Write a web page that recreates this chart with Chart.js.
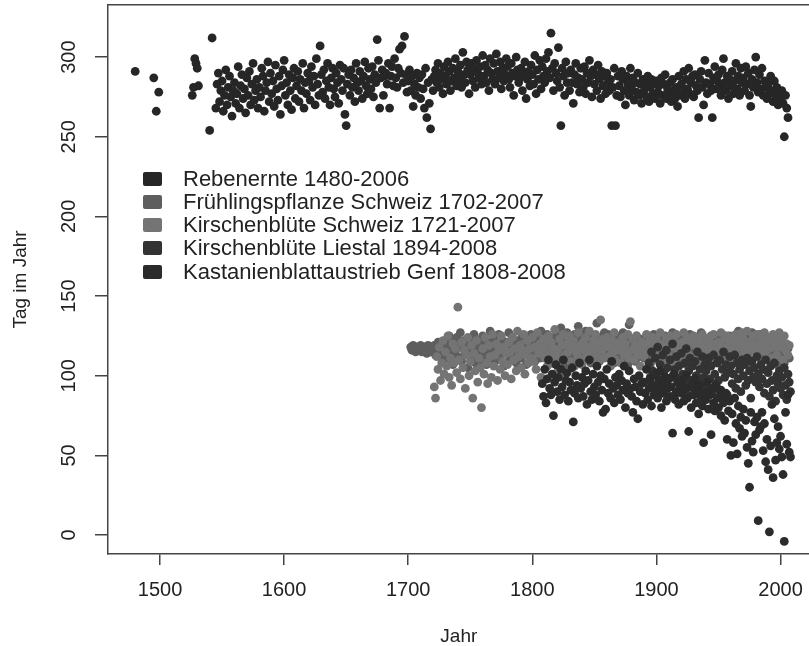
<!DOCTYPE html>
<html>
<head>
<meta charset="UTF-8">
<title>Phänologie Schweiz</title>
<script src="https://cdn.jsdelivr.net/npm/chart.js"></script>
<style>
  body { margin: 0; background: #fff; }
  /* the plot box runs off the right edge like in the original, so the canvas is a bit wider than the window */
  #wrap { position: relative; width: 809px; height: 646px; overflow: hidden; }
  #legend { position: absolute; left: 143px; top: 167px; font-family: "Liberation Sans", Arial, sans-serif; font-size: 22px; color: #222; }
  #legend .row { display: flex; align-items: center; height: 23.25px; white-space: nowrap; }
  #legend .box { width: 19px; height: 14px; border-radius: 2px; margin-right: 21px; }
</style>
</head>
<body>
<div id="wrap">
  <canvas id="myChart" width="814" height="646"></canvas>
  <div id="legend"></div>
</div>
<script>
const seriesNames = [
  'Rebenernte 1480-2006',
  'Frühlingspflanze Schweiz 1702-2007',
  'Kirschenblüte Schweiz 1721-2007',
  'Kirschenblüte Liestal 1894-2008',
  'Kastanienblattaustrieb Genf 1808-2008'
];
const seriesColors = ['#262626', '#5e5e5e', '#747474', '#333333', '#2b2b2b'];

const xTicks = [1500, 1600, 1700, 1800, 1900, 2000];
const yTicks = [0, 50, 100, 150, 200, 250, 300];

// Rebenernte: a few scattered early years, then one value per year from 1545
const rebenEarlyYears = [1480, 1495, 1497, 1499, 1526, 1527, 1528, 1529, 1530, 1531, 1540, 1542];
const rebenEarlyValues = [291, 287, 266, 278, 276, 281, 299, 296, 293, 282, 254, 312];
const rebenStart = 1545;
const rebenValues = [
  268, 283, 290, 272, 279,
  285, 266, 276, 292, 270, 281, 288, 275, 263, 279,
  284, 271, 277, 294, 268, 282, 289, 274, 280, 265,
  287, 276, 291, 270, 283, 296, 273, 279, 286, 268,
  281, 275, 293, 288, 266, 279, 284, 297, 272, 290,
  277, 285, 269, 295, 280, 273, 288, 264, 282, 292,
  298, 276, 284, 270, 289, 279, 267, 287, 293, 274,
  282, 291, 272, 286, 279, 296, 268, 284, 277, 290,
  285, 273, 294, 281, 288, 270, 299, 283, 276, 307,
  289, 278, 292, 274, 285, 296, 281, 270, 287, 293,
  280, 275, 290, 284, 271, 295, 286, 279, 293, 264,
  257, 283, 289, 276, 292, 281, 287, 272, 296, 284,
  279, 291, 285, 274, 288, 297, 282, 277, 293, 286,
  280, 294, 275, 289, 284, 311, 298, 268, 287, 292,
  276, 288, 290, 283, 296, 268, 288, 294, 282, 299,
  287, 281, 293, 305, 290, 307, 284, 313, 289, 278,
  285, 292, 279, 288, 269, 283, 276, 290, 281, 287,
  274, 289, 280, 268, 293, 262, 284, 271, 255, 286,
  279, 288, 292, 284, 296, 281, 290, 286, 277, 294,
  288, 283, 297, 291, 279, 285, 293, 287, 299, 282,
  291, 286, 295, 281, 303, 289, 284, 297, 292, 277,
  289, 296, 285, 293, 281, 298, 290, 287, 294, 283,
  301, 288, 295, 284, 292, 279, 299, 290, 286, 296,
  283, 302, 291, 287, 297, 280, 293, 285, 289, 299,
  294, 286, 281, 296, 290, 276, 288, 300, 292, 284,
  287, 293, 279, 290, 297, 274, 286, 291, 282, 295,
  289, 283, 301, 277, 292, 286, 298, 280, 294, 288,
  284, 299, 291, 303, 287, 315, 293, 279, 296, 290,
  285, 306, 281, 257, 293, 288, 276, 297, 284, 290,
  279, 292, 284, 271, 289, 296, 283, 287, 278, 293,
  286, 281, 294, 277, 290, 284, 298, 288, 275, 292,
  283, 289, 279, 295, 286, 274, 291, 282, 288, 277,
  290, 284, 279, 286, 257, 281, 293, 257, 276, 288,
  282, 275, 291, 286, 279, 270, 288, 283, 276, 293,
  280, 287, 273, 284, 278, 290, 276, 283, 271, 286,
  279, 284, 275, 288, 272, 281, 286, 277, 283, 274,
  285, 278, 282, 271, 287, 276, 283, 289, 274, 280,
  277, 284, 272, 286, 279, 274, 281, 269, 288, 276,
  283, 278, 291, 274, 286, 280, 293, 277, 284, 288,
  275, 289, 282, 279, 262, 286, 291, 281, 270, 298,
  284, 277, 290, 283, 279, 262, 287, 294, 280, 285,
  289, 281, 276, 292, 299, 284, 279, 288, 274, 286,
  282, 291, 277, 285, 296, 280, 288, 276, 293, 284,
  287, 279, 294, 283, 290, 276, 269, 286, 281, 292,
  300, 284, 278, 289, 280, 293, 276, 285, 281, 274,
  283, 277, 288, 279, 272, 285, 276, 281, 270, 278,
  274, 279, 271, 250, 276, 268, 262
];

const fruehStart = 1702;
const fruehValues = [
  118, 116, 119, 117, 115, 118, 116, 117,
  119, 115, 117, 118, 116, 114, 119, 117, 115, 118,
  116, 119, 113, 117, 121, 115, 118, 112, 120, 116,
  122, 110, 118, 125, 113, 119, 107, 121, 116, 124,
  112, 119, 127, 109, 117, 122, 114, 120, 105, 118,
  123, 111, 116, 126, 108, 120, 115, 122, 110, 118,
  125, 113, 119, 107, 121, 116, 128, 111, 118, 123,
  109, 120, 115, 126, 112, 118, 122, 106, 119, 114,
  121, 127, 110, 117, 124, 113, 119, 108, 122, 116,
  118, 111, 125, 115, 120, 107, 123, 117, 112, 126,
  114, 121, 109, 119, 124, 116, 111, 128, 118, 113,
  120, 115, 126, 110, 122, 117, 108, 124, 119, 113,
  125, 111, 118, 130, 114, 121, 107, 119, 127, 116,
  112, 123, 118, 109, 126, 115, 121, 131, 113, 119,
  124, 110, 117, 128, 114, 122, 118, 108, 125, 116,
  121, 113, 133, 117, 109, 124, 119, 112, 127, 115,
  118, 126, 111, 120, 114, 123, 108, 119, 125, 113,
  116, 122, 110, 127, 118, 113, 124, 107, 132, 119,
  114, 121, 117, 109, 125, 118, 112, 123, 115, 120,
  111, 124, 118, 113, 120, 107, 122, 116, 126, 114,
  119, 112, 123, 117, 108, 121, 115, 125, 110, 118,
  122, 114, 119, 127, 111, 117, 123, 109, 120, 115,
  118, 124, 112, 120, 107, 122, 116, 126, 113, 119,
  115, 121, 109, 124, 118, 112, 127, 116, 120, 110,
  123, 113, 119, 108, 125, 117, 121, 111, 118, 124,
  116, 120, 112, 126, 114, 119, 109, 122, 117, 125,
  113, 121, 118, 110, 124, 116, 128, 112, 119, 122,
  117, 111, 125, 119, 114, 121, 108, 127, 116, 120,
  123, 115, 119, 112, 126, 118, 110, 121, 117, 124,
  114, 120, 109, 118, 122, 113, 117, 107, 121, 116,
  112, 119, 115, 108, 120, 114, 117, 111
];

const kirschStart = 1721;
const kirschValues = [
  93, 86, 112, 104, 118, 97, 108, 122, 101,
  115, 106, 125, 99, 111, 94, 120, 108, 117, 102,
  143, 110, 98, 121, 105, 116, 92, 113, 124, 100,
  109, 119, 86, 114, 103, 122, 96, 111, 105, 80,
  117, 101, 124, 108, 95, 119, 112, 99, 126, 106,
  113, 120, 97, 116, 104, 125, 109, 118, 100, 114,
  107, 121, 115, 98, 124, 110, 117, 103, 128, 112,
  119, 105, 116, 126, 101, 113, 122, 108, 117, 111,
  124, 109, 118, 104, 127, 114, 120, 99, 115, 123,
  111, 118, 106, 125, 113, 121, 108, 117, 129, 112,
  116, 104, 123, 110, 119, 126, 113, 101, 120, 115,
  125, 109, 117, 122, 106, 118, 114, 127, 111, 119,
  107, 121, 116, 124, 112, 118, 128, 110, 115, 122,
  118, 126, 113, 109, 121, 135, 116, 123, 111, 119,
  124, 112, 118, 106, 122, 115, 127, 110, 119, 116,
  121, 108, 117, 124, 113, 120, 115, 126, 111, 134,
  116, 123, 110, 119, 125, 113, 118, 106, 121, 117,
  112, 120, 126, 115, 108, 122, 117, 124, 110, 119,
  123, 114, 118, 127, 111, 120, 116, 109, 124, 117,
  119, 125, 112, 118, 122, 107, 126, 115, 120, 113,
  116, 121, 127, 110, 118, 124, 113, 119, 108, 122,
  125, 112, 119, 116, 123, 109, 120, 126, 114, 118,
  111, 122, 117, 124, 108, 119, 126, 113, 120, 115,
  121, 114, 127, 118, 110, 123, 116, 125, 112, 119,
  117, 124, 109, 120, 126, 113, 118, 122, 111, 127,
  123, 115, 119, 128, 112, 121, 117, 110, 125, 116,
  120, 126, 113, 118, 124, 109, 121, 127, 115, 119,
  124, 117, 121, 111, 126, 118, 123, 113, 120, 127,
  118, 122, 110, 125, 116, 120, 113, 119
];

const liestalStart = 1894;
const liestalValues = [
  108, 97, 115, 103, 92, 111,
  100, 118, 95, 107, 89, 113, 102, 96, 116, 105,
  93, 110, 99, 120, 87, 104, 112, 98, 106, 91,
  114, 101, 95, 108, 117, 88, 103, 111, 97, 106,
  92, 109, 100, 115, 96, 104, 86, 112, 99, 107,
  103, 94, 111, 98, 106, 89, 113, 101, 95, 108,
  97, 110, 91, 104, 115, 99, 107, 88, 102, 112,
  106, 95, 101, 113, 92, 108, 98, 104, 90, 110,
  100, 107, 94, 111, 97, 103, 86, 109, 99, 105,
  96, 112, 101, 93, 107, 98, 104, 89, 110, 95,
  102, 87, 106, 97, 91, 108, 84, 100, 95, 103,
  92, 99, 88, 105, 94, 85, 101, 96, 90
];

const genfStart = 1808;
const genfValues = [
  95, 87,
  104, 83, 98, 110, 92, 88, 101, 75, 96, 107,
  90, 99, 85, 104, 93, 110, 88, 97, 102, 84,
  96, 91, 105, 71, 89, 100, 94, 86, 108, 92,
  99, 87, 95, 103, 82, 97, 110, 90, 85, 101,
  93, 88, 106, 96, 84, 100, 91, 77, 98, 79,
  104, 89, 95, 86, 109, 92, 83, 99, 94, 88,
  101, 85, 97, 91, 106, 80, 95, 89, 103, 92,
  87, 77, 98, 93, 84, 73, 100, 90, 95, 82,
  96, 89, 104, 85, 92, 99, 81, 94, 88, 101,
  91, 86, 97, 103, 80, 94, 89, 99, 84, 92,
  98, 87, 93, 64, 101, 85, 90, 96, 82, 94,
  89, 97, 84, 92, 100, 86, 65, 93, 80, 95,
  88, 98, 83, 91, 76, 94, 87, 81, 58, 90,
  85, 96, 79, 88, 63, 92, 83, 78, 94, 86,
  80, 91, 75, 87, 83, 72, 89, 60, 78, 84,
  50, 76, 58, 86, 70, 51, 81, 67, 74, 62,
  79, 64, 72, 55, 45, 30, 77, 59, 52, 71,
  63, 74, 9, 66, 68, 77, 53, 70, 46, 60,
  41, 2, 56, 82, 36, 73, 47, 58, 68, 54,
  62, 49, 38, -4, 77, 57, 88, 52, 49
];

function toPoints(start, values) {
  return values.map((v, i) => ({ x: start + i, y: v }));
}

const rebenPoints = rebenEarlyYears.map((yr, i) => ({ x: yr, y: rebenEarlyValues[i] }))
  .concat(toPoints(rebenStart, rebenValues));

const seriesPoints = [
  rebenPoints,
  toPoints(fruehStart, fruehValues),
  toPoints(kirschStart, kirschValues),
  toPoints(liestalStart, liestalValues),
  toPoints(genfStart, genfValues)
];

const fontFamily = '"Liberation Sans", Arial, Helvetica, sans-serif';
const axisColor = '#444';

// legend drawn as html inside the plot
const legendEl = document.getElementById('legend');
seriesNames.forEach((name, i) => {
  const row = document.createElement('div');
  row.className = 'row';
  const box = document.createElement('div');
  box.className = 'box';
  box.style.background = seriesColors[i];
  const label = document.createElement('span');
  label.textContent = name;
  row.appendChild(box);
  row.appendChild(label);
  legendEl.appendChild(row);
});

// no extra padding from tick labels, the plot box is fixed
function noPad(s) {
  s.paddingTop = 0;
  s.paddingBottom = 0;
  s.paddingLeft = 0;
  s.paddingRight = 0;
}

const ctx = document.getElementById('myChart').getContext('2d');
const chart = new Chart(ctx, {
  type: 'scatter',
  data: {
    datasets: seriesNames.map((name, i) => ({
      label: name,
      data: seriesPoints[i],
      backgroundColor: seriesColors[i],
      borderWidth: 0,
      pointRadius: 4.4,
      order: seriesNames.length - i
    }))
  },
  options: {
    responsive: false,
    animation: false,
    layout: { padding: { top: 5, left: 0, right: 0, bottom: 0 } },
    plugins: {
      legend: { display: false },
      tooltip: { enabled: false }
    },
    scales: {
      x: {
        type: 'linear',
        min: 1458.1,
        max: 2023.4,
        afterBuildTicks: (s) => { s.ticks = xTicks.map(v => ({ value: v })); },
        afterFit: (s) => { s.height = 92; noPad(s); },
        grid: { drawOnChartArea: false, color: axisColor, lineWidth: 1.5, tickLength: 11 },
        border: { color: axisColor, width: 1.5 },
        ticks: { color: '#222', font: { family: fontFamily, size: 20 }, padding: 13, maxRotation: 0, autoSkip: false, callback: (v) => String(v) },
        title: { display: true, text: 'Jahr', color: '#222', font: { family: fontFamily, size: 19, lineHeight: 1 }, padding: 0 }
      },
      x2: {
        type: 'linear',
        position: 'top',
        min: 0,
        max: 1,
        afterFit: (s) => { s.height = 0; noPad(s); },
        grid: { display: false, drawTicks: false },
        ticks: { display: false },
        border: { color: axisColor, width: 1.5 }
      },
      y: {
        type: 'linear',
        min: -11.9,
        max: 332.7,
        afterBuildTicks: (s) => { s.ticks = yTicks.map(v => ({ value: v })); },
        afterFit: (s) => { s.width = 108; noPad(s); },
        grid: { drawOnChartArea: false, color: axisColor, lineWidth: 1.5, tickLength: 13 },
        border: { color: axisColor, width: 1.5 },
        ticks: { color: '#222', font: { family: fontFamily, size: 20 }, padding: 9, minRotation: 90, maxRotation: 90, crossAlign: 'center', autoSkip: false, callback: (v) => String(v) },
        title: { display: true, text: 'Tag im Jahr', color: '#222', font: { family: fontFamily, size: 19 }, padding: { top: 9, bottom: 0 } }
      }
    }
  }
});
</script>
</body>
</html>
